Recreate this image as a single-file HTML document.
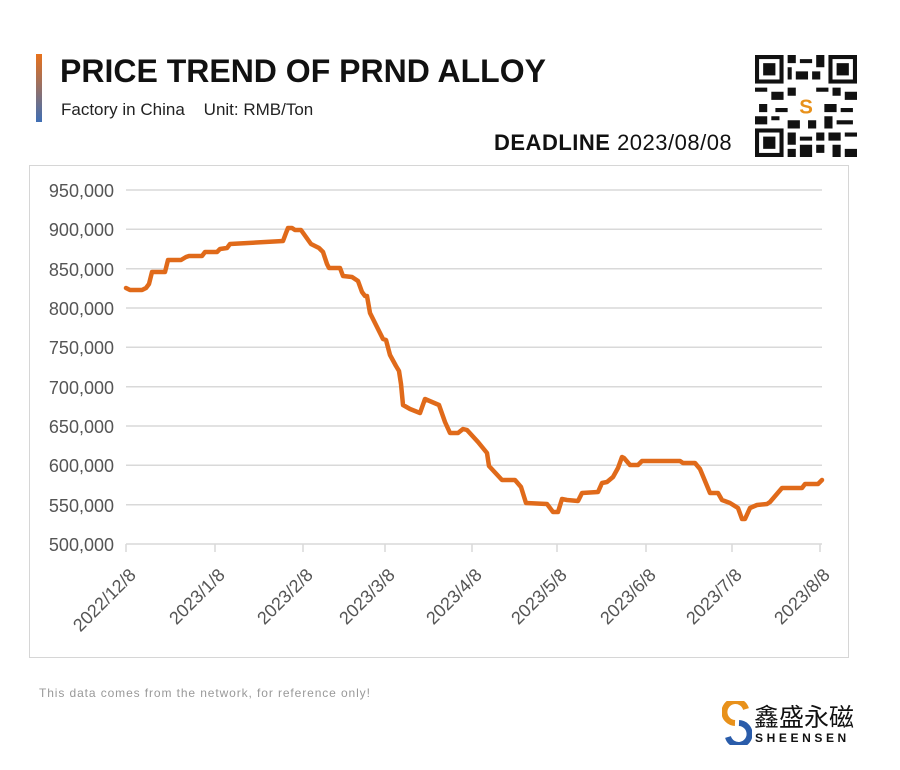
<!DOCTYPE html>
<html><head><meta charset="utf-8"><style>
body{margin:0;width:900px;height:770px;background:#fff;font-family:"Liberation Sans","Noto Sans CJK SC",sans-serif;position:relative;overflow:hidden}
.a{position:absolute;white-space:nowrap}
</style></head><body>
<div class="a" style="left:36px;top:54px;width:6px;height:68px;background:linear-gradient(#e8711b,#3f6fb5)"></div>
<div class="a" style="left:60px;top:53px;font-size:32px;font-weight:bold;color:#111">PRICE TREND OF PRND ALLOY</div>
<div class="a" style="left:61px;top:100px;font-size:17px;color:#222">Factory in China&nbsp;&nbsp;&nbsp;&nbsp;Unit: RMB/Ton</div>
<div class="a" style="left:494px;top:130px;font-size:22px;font-weight:bold;color:#111;letter-spacing:0.5px">DEADLINE <span style="font-weight:normal">2023/08/08</span></div>
<svg class="a" style="left:755px;top:55px" width="102" height="102" viewBox="0 0 25 25">
<rect width="25" height="25" fill="#fff"/>
<g fill="#111">
<rect x="0" y="0" width="7" height="7"/><rect x="18" y="0" width="7" height="7"/><rect x="0" y="18" width="7" height="7"/>
</g>
<g fill="#fff"><rect x="1" y="1" width="5" height="5"/><rect x="19" y="1" width="5" height="5"/><rect x="1" y="19" width="5" height="5"/></g>
<g fill="#111"><rect x="2" y="2" width="3" height="3"/><rect x="20" y="2" width="3" height="3"/><rect x="2" y="20" width="3" height="3"/>
<path d="M8 0h2v2h-2zM11 1h3v1h-3zM15 0h2v3h-2zM8 3h1v3h-1zM10 4h3v2h-3zM14 4h2v2h-2zM0 8h3v1h-3zM4 9h3v2h-3zM8 8h2v2h-2zM15 8h3v1h-3zM19 8h2v2h-2zM22 9h3v2h-3zM1 12h2v2h-2zM5 13h3v1h-3zM17 12h3v2h-3zM21 13h3v1h-3zM0 15h3v2h-3zM4 15h2v1h-2zM8 16h3v2h-3zM13 16h2v2h-2zM17 15h2v3h-2zM20 16h4v1h-4zM8 19h2v3h-2zM11 20h3v1h-3zM15 19h2v2h-2zM18 19h3v2h-3zM22 19h3v1h-3zM11 22h3v3h-3zM15 22h2v2h-2zM19 22h2v3h-2zM22 23h3v2h-3zM8 23h2v2h-2z"/></g>
<circle cx="12.5" cy="12.5" r="2.6" fill="#fff"/><text x="12.5" y="14.3" font-size="5" text-anchor="middle" fill="#e8911b" font-weight="bold">S</text>
</svg>
<div class="a" style="left:29px;top:165px;width:818px;height:491px;border:1px solid #d6d6d6"></div>
<svg class="a" style="left:0;top:0" width="900" height="770">
<g stroke="#d9d9d9" stroke-width="1.5">
<line x1="126" x2="822" y1="190" y2="190"/><line x1="126" x2="822" y1="229.3" y2="229.3"/><line x1="126" x2="822" y1="268.7" y2="268.7"/><line x1="126" x2="822" y1="308" y2="308"/><line x1="126" x2="822" y1="347.3" y2="347.3"/><line x1="126" x2="822" y1="386.7" y2="386.7"/><line x1="126" x2="822" y1="426" y2="426"/><line x1="126" x2="822" y1="465.3" y2="465.3"/><line x1="126" x2="822" y1="504.7" y2="504.7"/><line x1="126" x2="822" y1="544" y2="544"/>
<line x1="126" x2="126" y1="544" y2="552"/><line x1="215" x2="215" y1="544" y2="552"/><line x1="303" x2="303" y1="544" y2="552"/><line x1="385" x2="385" y1="544" y2="552"/><line x1="472" x2="472" y1="544" y2="552"/><line x1="557" x2="557" y1="544" y2="552"/><line x1="646" x2="646" y1="544" y2="552"/><line x1="732" x2="732" y1="544" y2="552"/><line x1="820" x2="820" y1="544" y2="552"/>
</g>
<g font-size="18" fill="#555" text-anchor="end" font-family="Liberation Sans,sans-serif">
<text x="114" y="197">950,000</text><text x="114" y="236">900,000</text><text x="114" y="276">850,000</text><text x="114" y="315">800,000</text><text x="114" y="354">750,000</text><text x="114" y="394">700,000</text><text x="114" y="433">650,000</text><text x="114" y="472">600,000</text><text x="114" y="512">550,000</text><text x="114" y="551">500,000</text>
<g transform="translate(137,576) rotate(-45)"><text>2022/12/8</text></g>
<g transform="translate(226,576) rotate(-45)"><text>2023/1/8</text></g>
<g transform="translate(314,576) rotate(-45)"><text>2023/2/8</text></g>
<g transform="translate(396,576) rotate(-45)"><text>2023/3/8</text></g>
<g transform="translate(483,576) rotate(-45)"><text>2023/4/8</text></g>
<g transform="translate(568,576) rotate(-45)"><text>2023/5/8</text></g>
<g transform="translate(657,576) rotate(-45)"><text>2023/6/8</text></g>
<g transform="translate(743,576) rotate(-45)"><text>2023/7/8</text></g>
<g transform="translate(831,576) rotate(-45)"><text>2023/8/8</text></g>
</g>
<polyline fill="none" stroke="#e06a1a" stroke-width="4.5" stroke-linejoin="round" stroke-linecap="round" points="126,288 130,290 142,290 146,288 149,284 152,272 165,272 168,260 181,260 186,257 189,256 202,256 205,252 217,252 220,249 227,248 230,244 283,241 286,233 288,228 292,228 295,230 301,230 311,244 319,248 323,252 327,264 329,268 340,268 343,276 352,277 358,281 362,292 365,296 367,296 370,313 378,329 383,339 386,340 390,355 396,366 399,371 401,384 403,405 410,409 420,413 425,399 439,405 445,422 450,433 458,433 463,429 467,430 478,442 487,453 489,466 502,480 515,480 521,487 526,503 547,504 553,512 558,512 562,499 567,500 578,501 582,493 598,492 602,483 607,482 613,477 618,468 622,457 624,458 630,465 638,465 642,461 680,461 683,463 695,463 700,469 710,493 718,493 722,500 730,503 738,508 742,519 745,519 750,508 757,505 767,504 770,502 782,488 802,488 805,484 818,484 822,480"/>
</svg>
<div class="a" style="left:39px;top:686px;font-size:12px;color:#999;letter-spacing:0.9px">This data comes from the network, for reference only!</div>
<svg class="a" style="left:722px;top:701px" width="30" height="44" viewBox="0 0 30 44">
<path d="M24 8 A11 11 0 1 0 13 22" fill="none" stroke="#e8911b" stroke-width="6"/>
<path d="M6 36 A11 11 0 1 0 17 22" fill="none" stroke="#2a5caa" stroke-width="6"/>
</svg>
<div class="a" style="left:754px;top:702px;font-size:25px;color:#111;font-family:'Noto Sans CJK SC',sans-serif;line-height:28px">鑫盛永磁</div>
<div class="a" style="left:755px;top:731px;font-size:12px;color:#111;letter-spacing:3.6px;font-weight:bold">SHEENSEN</div>
</body></html>
